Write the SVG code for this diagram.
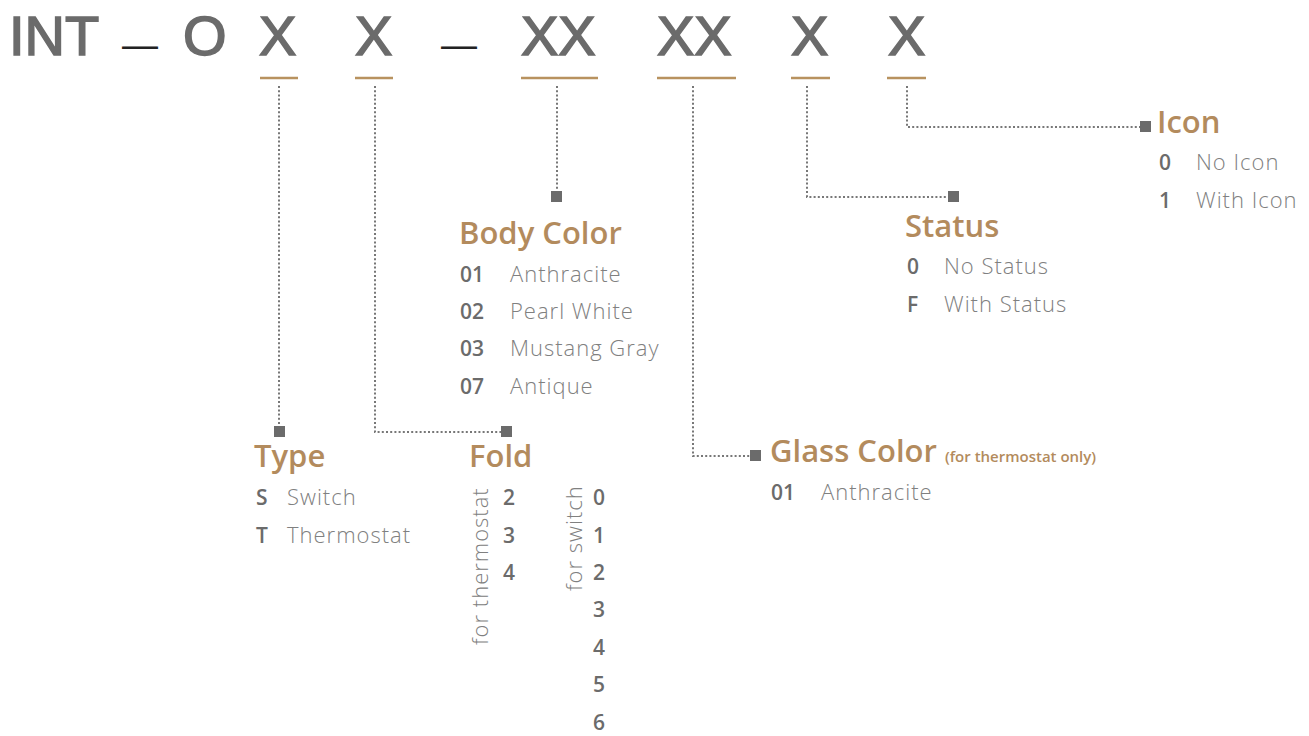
<svg xmlns="http://www.w3.org/2000/svg" width="1309" height="736" viewBox="0 0 1309 736">
<style>
.title{font-family:"Liberation Sans",Arial,sans-serif;font-size:56px;fill:#6b6b6b;stroke:#6b6b6b;stroke-width:1.6}
.dash{font-family:"Liberation Sans",Arial,sans-serif;font-size:36px;fill:#222}
.ul{stroke:#b8925f;stroke-width:2.5}
.con{fill:none;stroke:#777;stroke-width:2;stroke-dasharray:2 2.2}
.sq{fill:#6b6b6b}
.h{font-family:"Open Sans",sans-serif;font-weight:600;font-size:31px;fill:#b38b5d}
.hs{font-family:"Open Sans",sans-serif;font-weight:600;font-size:15px;fill:#b38b5d}
.k{font-family:"Open Sans",sans-serif;font-weight:600;font-size:21px;fill:#6b6b6b}
.v{font-family:"Open Sans",sans-serif;font-weight:300;font-size:22px;fill:#808080;letter-spacing:1px}
</style>
<rect width="1309" height="736" fill="#fff"/>
<g id="title">
<text class="title" x="9" y="55">INT</text>
<text class="dash" x="122" y="57">—</text>
<text class="title" x="183" y="55">O</text>
<text class="title" x="259" y="55">X</text>
<text class="title" x="355" y="55">X</text>
<text class="dash" x="441" y="57">—</text>
<text class="title" x="521" y="55">XX</text>
<text class="title" x="657" y="55">XX</text>
<text class="title" x="791" y="55">X</text>
<text class="title" x="888" y="55">X</text>
<line class="ul" x1="260" y1="78" x2="298" y2="78"/>
<line class="ul" x1="355" y1="78" x2="393" y2="78"/>
<line class="ul" x1="521" y1="78" x2="598" y2="78"/>
<line class="ul" x1="657" y1="78" x2="736" y2="78"/>
<line class="ul" x1="791" y1="78" x2="830" y2="78"/>
<line class="ul" x1="887" y1="78" x2="926" y2="78"/>
</g>
<g id="connectors">
<path class="con" d="M279 86 V426"/>
<path class="con" d="M375 86 V432 H501"/>
<path class="con" d="M557 86 V191"/>
<path class="con" d="M693 86 V456 H750"/>
<path class="con" d="M807 86 V197 H948"/>
<path class="con" d="M907 86 V127 H1140"/>
<rect class="sq" x="274" y="426" width="11" height="11"/>
<rect class="sq" x="501" y="426" width="11" height="11"/>
<rect class="sq" x="551" y="191" width="11" height="11"/>
<rect class="sq" x="750" y="450" width="11" height="11"/>
<rect class="sq" x="948" y="191" width="11" height="11"/>
<rect class="sq" x="1140" y="121" width="11" height="11"/>
</g>
<g id="icon">
<text class="h" x="1157" y="133">Icon</text>
<text class="k" x="1159" y="170">0</text><text class="v" x="1196" y="170">No Icon</text>
<text class="k" x="1159" y="208">1</text><text class="v" x="1196" y="208">With Icon</text>
</g>
<g id="status">
<text class="h" x="905" y="237">Status</text>
<text class="k" x="907" y="274">0</text><text class="v" x="944" y="274">No Status</text>
<text class="k" x="907" y="312">F</text><text class="v" x="944" y="312">With Status</text>
</g>
<g id="body-color">
<text class="h" x="459" y="244">Body Color</text>
<text class="k" x="460" y="282">01</text><text class="v" x="510" y="282">Anthracite</text>
<text class="k" x="460" y="319">02</text><text class="v" x="510" y="319">Pearl White</text>
<text class="k" x="460" y="356">03</text><text class="v" x="510" y="356">Mustang Gray</text>
<text class="k" x="460" y="394">07</text><text class="v" x="510" y="394">Antique</text>
</g>
<g id="glass-color">
<text class="h" x="770" y="462">Glass Color <tspan class="hs">(for thermostat only)</tspan></text>
<text class="k" x="771" y="500">01</text><text class="v" x="821" y="500">Anthracite</text>
</g>
<g id="type">
<text class="h" x="254" y="467">Type</text>
<text class="k" x="256" y="505">S</text><text class="v" x="287" y="505">Switch</text>
<text class="k" x="256" y="543">T</text><text class="v" x="287" y="543">Thermostat</text>
</g>
<g id="fold">
<text class="h" x="469" y="467">Fold</text>
<text class="v" transform="translate(488,645) rotate(-90)">for thermostat</text>
<text class="k" x="503" y="505">2</text>
<text class="k" x="503" y="543">3</text>
<text class="k" x="503" y="580">4</text>
<text class="v" transform="translate(582,591) rotate(-90)">for switch</text>
<text class="k" x="593" y="505">0</text>
<text class="k" x="593" y="543">1</text>
<text class="k" x="593" y="580">2</text>
<text class="k" x="593" y="617">3</text>
<text class="k" x="593" y="655">4</text>
<text class="k" x="593" y="692">5</text>
<text class="k" x="593" y="730">6</text>
</g>
</svg>
